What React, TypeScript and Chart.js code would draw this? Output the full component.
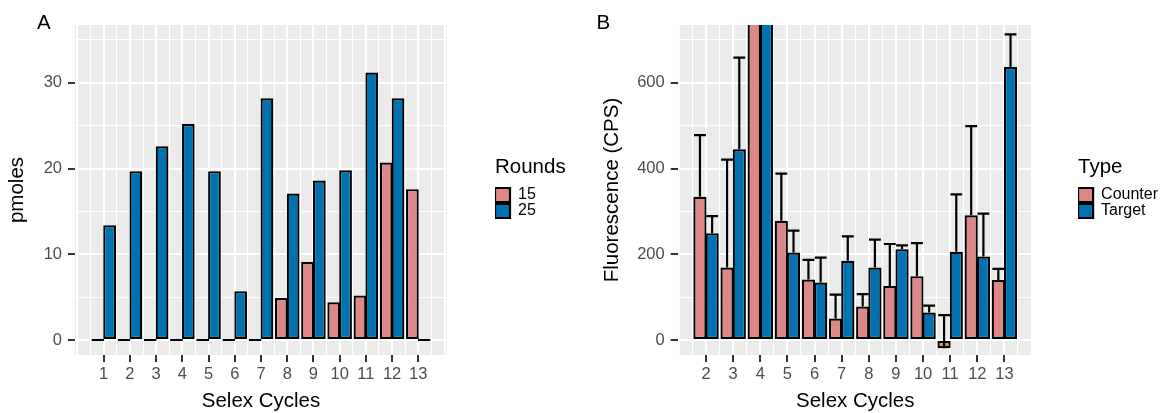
import React, { useEffect, useRef } from 'react';
import { Chart, registerables } from 'chart.js';

Chart.register(...registerables);

// ---- Panel A: pmoles per selex cycle, grouped by number of rounds ----
const cyclesA = [1, 2, 3, 4, 5, 6, 7, 8, 9, 10, 11, 12, 13];
const rounds15 = [0, 0, 0, 0, 0, 0, 0, 4.9, 9.1, 4.4, 5.2, 20.7, 17.6];
const rounds25 = [13.4, 19.7, 22.6, 25.2, 19.7, 5.7, 28.2, 17.1, 18.6, 19.8, 31.2, 28.2, 0];
const yLimitsA = [0, 35];
const yStepA = 10;

// ---- Panel B: fluorescence per selex cycle, counter vs target (mean and SD) ----
const cyclesB = [2, 3, 4, 5, 6, 7, 8, 9, 10, 11, 12, 13];
const counterMean = [334, 169, 1250, 278, 141, 50, 78, 126, 149, -19, 291, 140];
const counterSD = [144, 252, 300, 110, 46, 56, 29, 98, 77, 77, 208, 26];
const targetMean = [249, 445, 1180, 204, 134, 185, 169, 212, 64, 206, 195, 637];
const targetSD = [40, 214, 260, 51, 58, 57, 65, 9, 16, 134, 100, 76];
const yLimitsB = [0, 700];
const yStepB = 200;

const FONT = "'Liberation Sans', Arial, Helvetica, sans-serif";
const PINK = '#DD8787';
const BLUE = '#0072B2';
const PANEL_BG = '#EBEBEB';
const TICK_TEXT = '#4D4D4D';
const TICK_MARK = '#333333';
const HEIGHT = 413;

// 5% expansion on both sides, like the default continuous scale expansion
const expand = (lo: number, hi: number) => {
  const d = (hi - lo) * 0.05;
  return [lo - d, hi + d];
};
const xRange = (cats: number[]) => expand(cats[0] - 0.45, cats[cats.length - 1] + 0.45);
const multiples = (lo: number, hi: number, step: number) => {
  const out: number[] = [];
  for (let k = Math.ceil(lo / step - 1e-9); k * step <= hi + 1e-9; k++) out.push(+(k * step).toFixed(6));
  return out;
};
const isMultiple = (v: number, step: number) => Math.abs(v / step - Math.round(v / step)) < 1e-9;

// Grey panel behind the grid
const panelBackground = {
  id: 'panelBackground',
  beforeDraw(chart: any, _args: any, opts: any) {
    const { ctx, chartArea: a } = chart;
    ctx.save();
    ctx.fillStyle = opts.color;
    ctx.fillRect(a.left, a.top, a.right - a.left, a.bottom - a.top);
    ctx.restore();
  },
};

// Keeps the legend box wide enough for its title (the legend clips to its box)
const legendMinWidth = {
  id: 'legendMinWidth',
  afterInit(chart: any, _args: any, opts: any) {
    const lg = chart.legend;
    if (!lg || !opts.width) return;
    const fit = lg.fit.bind(lg);
    lg.fit = () => {
      fit();
      lg.width = Math.max(lg.width, opts.width);
    };
  },
};

// Panel letter in the top-left corner
const panelTag = {
  id: 'panelTag',
  afterDraw(chart: any, _args: any, opts: any) {
    if (!opts.text) return;
    const { ctx } = chart;
    ctx.save();
    ctx.fillStyle = '#000';
    ctx.font = `20.5px ${FONT}`;
    ctx.textAlign = 'left';
    ctx.textBaseline = 'alphabetic';
    ctx.fillText(opts.text, opts.x, opts.y);
    ctx.restore();
  },
};

// Upper error bars (mean to mean + SD) with a cap, centred on each bar
const errorBars = {
  id: 'errorBars',
  afterDatasetsDraw(chart: any, _args: any, opts: any) {
    const sd: number[][] | undefined = opts.sd;
    if (!sd) return;
    const { ctx, chartArea: a } = chart;
    const y = chart.scales.y;
    ctx.save();
    ctx.beginPath();
    ctx.rect(a.left, a.top, a.right - a.left, a.bottom - a.top);
    ctx.clip();
    ctx.strokeStyle = '#000';
    ctx.lineWidth = 2.2;
    chart.data.datasets.forEach((ds: any, di: number) => {
      const meta = chart.getDatasetMeta(di);
      meta.data.forEach((el: any, i: number) => {
        const v = ds.data[i].y;
        const base = y.getPixelForValue(v);
        const top = y.getPixelForValue(v + sd[di][i]);
        const half = el.width * 0.45;
        ctx.beginPath();
        ctx.moveTo(el.x, base);
        ctx.lineTo(el.x, top);
        ctx.moveTo(el.x - half, top);
        ctx.lineTo(el.x + half, top);
        ctx.stroke();
      });
    });
    ctx.restore();
  },
};

type Series = { label: string; values: number[]; color: string };
type PanelSpec = {
  cats: number[];
  series: Series[];
  sd?: number[][];
  yLimits: number[];
  yStep: number;
  yTitle: string;
  legendTitle: string;
  legendWidth: number;
  tag: string;
  tagX: number;
  padding: { left: number; right: number; top: number; bottom: number };
  yAxisWidth: number;
  xAxisHeight: number;
  legendGap: number;
};

function buildConfig(p: PanelSpec): any {
  const [xMin, xMax] = xRange(p.cats);
  const [yMin, yMax] = expand(p.yLimits[0], p.yLimits[1]);
  const xMajor = multiples(xMin, xMax, 1);
  const xMinor = multiples(xMin, xMax, 0.5).filter((v) => !Number.isInteger(v));
  const yAll = multiples(yMin, yMax, p.yStep / 2);
  const isLabelled = (v: number) => p.cats.includes(v);
  const isYMajor = (v: number) => isMultiple(v, p.yStep);

  return {
    type: 'bar',
    data: {
      datasets: p.series.map((s) => ({
        label: s.label,
        data: p.cats.map((c, i) => ({ x: c, y: s.values[i] })),
        backgroundColor: s.color,
        borderColor: '#000',
        borderWidth: 2.2,
        borderSkipped: false,
        barPercentage: 1.08,
        categoryPercentage: 0.9,
        minBarLength: 2.2,
        clip: 0,
        xAxisID: 'x',
        yAxisID: 'y',
      })),
    },
    options: {
      responsive: false,
      animation: false,
      events: [],
      layout: { padding: p.padding },
      font: { family: FONT },
      scales: {
        x: {
          type: 'linear',
          position: 'bottom',
          min: xMin,
          max: xMax,
          offset: false,
          afterBuildTicks: (s: any) => {
            s.ticks = xMajor.map((v) => ({ value: v }));
          },
          afterFit: (s: any) => {
            s.height = p.xAxisHeight;
          },
          grid: {
            offset: false,
            color: '#FFFFFF',
            lineWidth: 2,
            tickLength: 7,
            tickWidth: 2,
            tickColor: (c: any) => (c.tick && isLabelled(c.tick.value) ? TICK_MARK : 'rgba(0,0,0,0)'),
          },
          border: { display: false },
          ticks: {
            autoSkip: false,
            maxRotation: 0,
            padding: 3,
            color: TICK_TEXT,
            font: { family: FONT, size: 16.5 },
            callback: (v: number) => (isLabelled(v) ? String(v) : ''),
          },
          title: {
            display: true,
            text: 'Selex Cycles',
            color: '#000',
            font: { family: FONT, size: 20.5, lineHeight: 1 },
            padding: { top: 0, bottom: 1.5 },
          },
        },
        xMinor: {
          type: 'linear',
          position: 'bottom',
          min: xMin,
          max: xMax,
          offset: false,
          afterBuildTicks: (s: any) => {
            s.ticks = xMinor.map((v) => ({ value: v }));
          },
          afterFit: (s: any) => {
            s.height = 0;
          },
          grid: { offset: false, color: '#FFFFFF', lineWidth: 1, drawTicks: false },
          border: { display: false },
          ticks: { display: false },
        },
        y: {
          type: 'linear',
          position: 'left',
          min: yMin,
          max: yMax,
          afterBuildTicks: (s: any) => {
            s.ticks = yAll.map((v) => ({ value: v }));
          },
          afterFit: (s: any) => {
            s.width = p.yAxisWidth;
          },
          grid: {
            color: '#FFFFFF',
            lineWidth: (c: any) => (c.tick && isYMajor(c.tick.value) ? 2 : 1),
            tickLength: 7,
            tickWidth: 2,
            tickColor: (c: any) => (c.tick && isYMajor(c.tick.value) ? TICK_MARK : 'rgba(0,0,0,0)'),
          },
          border: { display: false },
          ticks: {
            autoSkip: false,
            padding: 6,
            color: TICK_TEXT,
            font: { family: FONT, size: 16.5 },
            callback: (v: number) => (isYMajor(v) ? String(v) : ''),
          },
          title: {
            display: true,
            text: p.yTitle,
            color: '#000',
            font: { family: FONT, size: 20.5, lineHeight: 1 },
            padding: { top: 0, bottom: 0 },
          },
        },
        gap: {
          type: 'linear',
          position: 'right',
          display: true,
          afterFit: (s: any) => {
            s.width = p.legendGap;
          },
          grid: { display: false, drawTicks: false },
          border: { display: false },
          ticks: { display: false },
        },
      },
      plugins: {
        legend: {
          position: 'right',
          align: 'center',
          fullSize: false,
          title: {
            display: true,
            text: p.legendTitle,
            color: '#000',
            position: 'start',
            font: { family: FONT, size: 20.5, lineHeight: 1 },
            padding: { top: -4, bottom: 9.5 },
          },
          labels: {
            boxWidth: 15,
            boxHeight: 14,
            padding: 0,
            color: '#000',
            font: { family: FONT, size: 16 },
          },
        },
        tooltip: { enabled: false },
        legendMinWidth: { width: p.legendWidth },
        panelBackground: { color: PANEL_BG },
        panelTag: { text: p.tag, x: p.tagX, y: 28.5 },
        errorBars: { sd: p.sd },
      },
    },
    plugins: [legendMinWidth, panelBackground, panelTag, errorBars],
  };
}

const panelA: PanelSpec = {
  cats: cyclesA,
  series: [
    { label: '15', values: rounds15, color: PINK },
    { label: '25', values: rounds25, color: BLUE },
  ],
  yLimits: yLimitsA,
  yStep: yStepA,
  yTitle: 'pmoles',
  legendTitle: 'Rounds',
  legendWidth: 78,
  tag: 'A',
  tagX: 37,
  padding: { left: 7, right: 7, top: 25, bottom: 0 },
  yAxisWidth: 68,
  xAxisHeight: 58,
  legendGap: 48,
};

const panelB: PanelSpec = {
  cats: cyclesB,
  series: [
    { label: 'Counter', values: counterMean, color: PINK },
    { label: 'Target', values: targetMean, color: BLUE },
  ],
  sd: [counterSD, targetSD],
  yLimits: yLimitsB,
  yStep: yStepB,
  yTitle: 'Fluorescence (CPS)',
  legendTitle: 'Type',
  legendWidth: 0,
  tag: 'B',
  tagX: 16.5,
  padding: { left: 21.7, right: 12, top: 25, bottom: 0 },
  yAxisWidth: 76,
  xAxisHeight: 58,
  legendGap: 45.3,
};

function Panel({ spec, left, width }: { spec: PanelSpec; left: number; width: number }) {
  const ref = useRef<HTMLCanvasElement>(null);
  useEffect(() => {
    if (!ref.current) return;
    const chart = new Chart(ref.current, buildConfig(spec));
    return () => chart.destroy();
  }, [spec]);
  return (
    <canvas
      ref={ref}
      width={width}
      height={HEIGHT}
      style={{ position: 'absolute', left, top: 0, width, height: HEIGHT }}
    />
  );
}

export default function App() {
  return (
    <div
      style={{
        position: 'fixed',
        left: 0,
        top: 0,
        width: 1162,
        height: HEIGHT,
        overflow: 'hidden',
        background: '#FFFFFF',
      }}
    >
      <Panel spec={panelA} left={0} width={580} />
      <Panel spec={panelB} left={580} width={600} />
    </div>
  );
}
